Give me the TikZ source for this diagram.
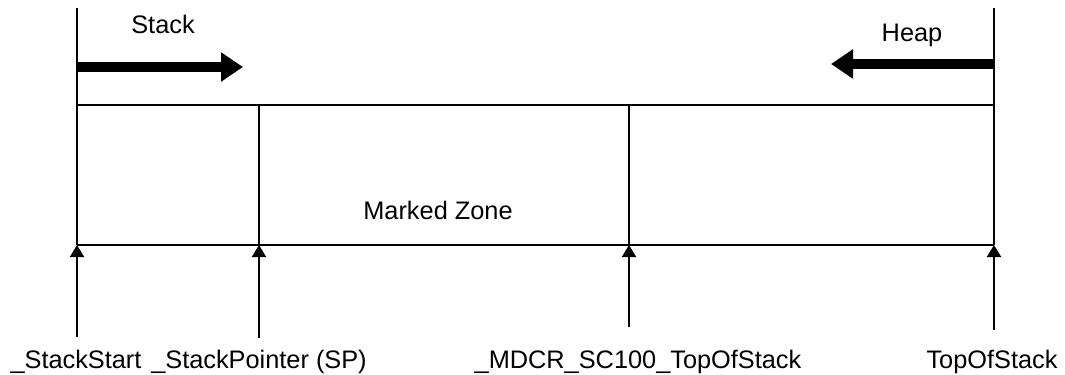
\documentclass[tikz,border=0pt]{standalone}
\usepackage{fontspec}
\setmainfont{Liberation Sans}
\usetikzlibrary{arrows.meta}
\begin{document}
\begin{tikzpicture}[x=0.75pt,y=-0.75pt,line width=1.5pt,
  lbl/.style={font=\fontsize{19}{21}\selectfont,inner sep=0pt,anchor=base},
  ptr/.style={-{Triangle[length=9pt,width=10.5pt]}},
  big/.style={line width=7.5pt,-{Triangle[length=16.5pt,width=21pt]}}]
\useasboundingbox (0,0) rectangle (1065,375);
% frame
\coordinate (ltop) at (77,8);
\coordinate (rtop) at (994,8);
\coordinate (b1t) at (77,105);
\coordinate (b1b) at (77,245);
\coordinate (b2t) at (259,105);
\coordinate (b2b) at (259,245);
\coordinate (b3t) at (629,105);
\coordinate (b3b) at (629,245);
\coordinate (b4t) at (994,105);
\coordinate (b4b) at (994,245);
\draw (ltop) -- (b1b);
\draw (rtop) -- (b4b);
\draw (b1t) -- (b4t);
\draw (b1b) -- (b4b);
\draw (b2t) -- (b2b);
\draw (b3t) -- (b3b);
% growth arrows
\coordinate (sa) at (77,67);
\coordinate (se) at (243,67);
\coordinate (ha) at (994,64);
\coordinate (he) at (831,64);
\draw[big] (sa) -- (se);
\draw[big] (ha) -- (he);
\node[lbl] (stack) at (163,33) {Stack};
\node[lbl] (heap) at (912,41) {Heap};
\node[lbl] (mz) at (438,219) {Marked Zone};
% pointers
\coordinate (p1) at (77,337);
\coordinate (p2) at (259,338);
\coordinate (p3) at (629,327);
\coordinate (p4) at (994,330);
\draw[ptr] (p1) -- (b1b);
\draw[ptr] (p2) -- (b2b);
\draw[ptr] (p3) -- (b3b);
\draw[ptr] (p4) -- (b4b);
\node[lbl] (l1) at (76,368) {\_StackStart};
\node[lbl] (l2) at (259,368) {\_StackPointer (SP)};
\node[lbl] (l3) at (638,368) {\_MDCR\_SC100\_TopOfStack};
\node[lbl] (l4) at (992,368) {TopOfStack};
\end{tikzpicture}
\end{document}
